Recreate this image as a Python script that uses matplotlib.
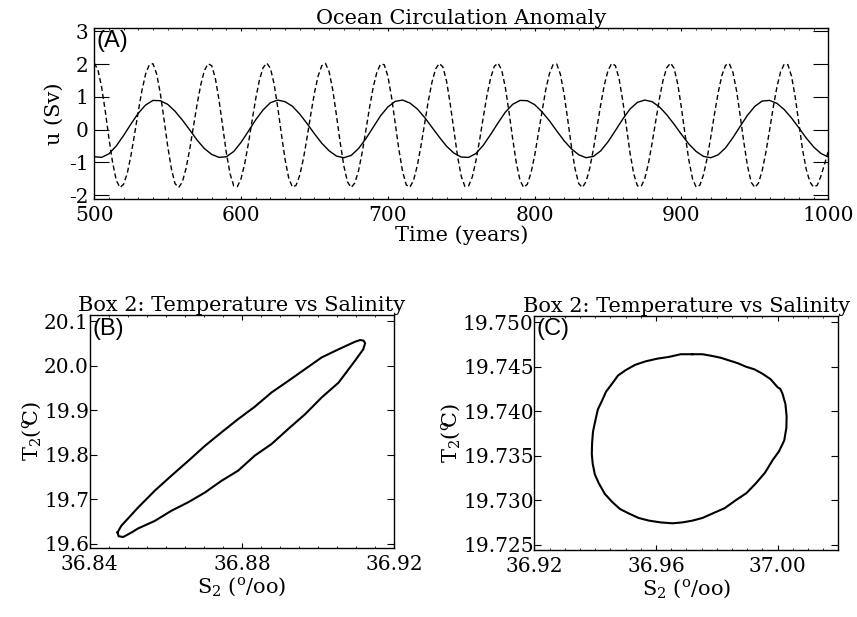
import numpy as np
import matplotlib
matplotlib.use('Agg')
import matplotlib.pyplot as plt
from matplotlib.ticker import MultipleLocator, FormatStrFormatter

plt.rcParams['font.family'] = ['DejaVu Serif']
plt.rcParams['mathtext.fontset'] = 'dejavuserif'
plt.rcParams['axes.unicode_minus'] = False

# ---------------- data ----------------
# Panel A: time grid (years)
years_solid = np.arange(500, 1000.1, 5.0)
years_dashed = np.arange(500, 1000.1, 2.5)

# solid curve (low-frequency oscillation), Sv, every 5 years
u_solid = [
    -0.83, -0.85, -0.74, -0.50, -0.18, 0.17, 0.50, 0.75, 0.89, 0.88,
    0.77, 0.56, 0.29, -0.01, -0.32, -0.58, -0.76, -0.85, -0.83, -0.67,
    -0.39, -0.05, 0.30, 0.60, 0.82, 0.90, 0.85, 0.71, 0.47, 0.18,
    -0.13, -0.42, -0.65, -0.81, -0.86, -0.79, -0.58, -0.28, 0.07, 0.42,
    0.69, 0.86, 0.90, 0.81, 0.63, 0.37, 0.07, -0.23, -0.51, -0.72,
    -0.84, -0.85, -0.73, -0.48, -0.15, 0.20, 0.53, 0.77, 0.89, 0.88,
    0.76, 0.54, 0.27, -0.04, -0.34, -0.59, -0.77, -0.86, -0.82, -0.65,
    -0.37, -0.03, 0.32, 0.63, 0.83, 0.90, 0.85, 0.69, 0.45, 0.16,
    -0.15, -0.44, -0.67, -0.82, -0.86, -0.77, -0.56, -0.25, 0.10, 0.44,
    0.71, 0.87, 0.89, 0.80, 0.61, 0.35, 0.05, -0.26, -0.53, -0.73,
    -0.84,
]

# dashed curve (high-frequency oscillation), Sv, every 2.5 years
u_dashed = [
    2.03, 1.82, 1.30, 0.56, -0.27, -1.01, -1.55, -1.77, -1.67, -1.33, -0.79, -0.13, 0.56, 1.20, 1.70, 1.98,
    2.01, 1.70, 1.10, 0.32, -0.50, -1.19, -1.65, -1.77, -1.60, -1.19, -0.61, 0.07, 0.76, 1.36, 1.80, 2.01,
    1.95, 1.56, 0.89, 0.08, -0.72, -1.35, -1.72, -1.74, -1.50, -1.04, -0.42, 0.27, 0.95, 1.51, 1.89, 2.03,
    1.87, 1.39, 0.67, -0.15, -0.92, -1.49, -1.76, -1.70, -1.39, -0.88, -0.23, 0.47, 1.12, 1.64, 1.95,
    2.02, 1.76, 1.20, 0.43, -0.39, -1.11, -1.60, -1.77, -1.63, -1.26, -0.70, -0.03, 0.67, 1.29, 1.75, 2.00,
    1.98, 1.63, 0.99, 0.20, -0.61, -1.28, -1.69, -1.76, -1.55, -1.11, -0.51, 0.18, 0.86, 1.44, 1.85, 2.02,
    1.91, 1.47, 0.77, -0.04, -0.83, -1.43, -1.74, -1.72, -1.45, -0.95, -0.32, 0.38, 1.04, 1.58, 1.93,
    2.03, 1.82, 1.29, 0.54, -0.28, -1.02, -1.55, -1.77, -1.67, -1.32, -0.79, -0.12, 0.57, 1.21, 1.70, 1.98,
    2.00, 1.69, 1.09, 0.31, -0.51, -1.20, -1.65, -1.77, -1.59, -1.18, -0.60, 0.08, 0.77, 1.37, 1.81, 2.02,
    1.95, 1.55, 0.88, 0.07, -0.73, -1.36, -1.72, -1.74, -1.50, -1.03, -0.41, 0.28, 0.95, 1.52, 1.89, 2.03,
    1.87, 1.38, 0.65, -0.17, -0.93, -1.50, -1.76, -1.70, -1.38, -0.87, -0.22, 0.48, 1.13, 1.65, 1.96,
    2.02, 1.75, 1.19, 0.42, -0.40, -1.12, -1.61, -1.77, -1.63, -1.25, -0.69, -0.02, 0.68, 1.30, 1.76, 2.00,
    1.98, 1.62, 0.98, 0.18, -0.62, -1.22, -1.60, -1.76, -1.70, -1.42, -1.05, -0.66,
]

# Panel B: box 2 salinity / temperature loop
salinity_b = [36.8473, 36.8483, 36.8527, 36.8571, 36.8615, 36.8659, 36.8703, 36.8746,
              36.8790, 36.8834, 36.8878, 36.8922, 36.8966, 36.9010, 36.9054, 36.9097,
              36.9111, 36.9120, 36.9124, 36.9119, 36.9097, 36.9054, 36.9010, 36.8966,
              36.8922, 36.8878, 36.8834, 36.8790, 36.8746, 36.8703, 36.8659, 36.8615,
              36.8571, 36.8527, 36.8510, 36.8488, 36.8476, 36.8473]
temperature_b = [19.6250, 19.640, 19.681, 19.719, 19.753, 19.786, 19.820, 19.850,
                 19.880, 19.908, 19.940, 19.966, 19.9925, 20.019, 20.037, 20.054,
                 20.058, 20.0565, 20.051, 20.037, 20.011, 19.962, 19.929, 19.891,
                 19.858, 19.824, 19.798, 19.764, 19.741, 19.715, 19.693, 19.674,
                 19.651, 19.634, 19.6250, 19.6148, 19.6165, 19.6250]

# Panel C: box 2 salinity / temperature loop
salinity_c = [36.9720, 36.96815, 36.9643, 36.9604, 36.9566, 36.9531, 36.9500, 36.9475,
              36.9456, 36.9436, 36.9423, 36.9409, 36.9401, 36.9393, 36.9390, 36.9389,
              36.9392, 36.9399, 36.9412, 36.9432, 36.9456, 36.9482, 36.9511, 36.9543,
              36.9577, 36.96155, 36.9654, 36.9687, 36.9720, 36.9753, 36.9786, 36.9826,
              36.9863, 36.9898, 36.9929, 36.9959, 36.9984, 37.0005, 37.0022, 37.0029,
              37.0030, 37.0026, 37.0016, 37.0009, 37.0000, 36.9977, 36.9951, 36.9924,
              36.9896, 36.98685, 36.9841, 36.98135, 36.9786, 36.9753, 36.9720]
temperature_c = [19.7464, 19.7464, 19.7461, 19.7459, 19.7456, 19.7452, 19.7446, 19.7440,
                 19.7431, 19.7422, 19.7412, 19.7402, 19.7390, 19.7377, 19.7364, 19.7352,
                 19.7341, 19.7329, 19.7319, 19.7307, 19.7298, 19.7290, 19.7285, 19.7280,
                 19.7277, 19.7275, 19.7274, 19.7275, 19.7277, 19.7280, 19.7285, 19.7291,
                 19.7300, 19.7308, 19.7319, 19.7331, 19.7345, 19.7355, 19.7367, 19.7381,
                 19.7394, 19.7408, 19.7420, 19.7425, 19.7427, 19.7436, 19.7442, 19.7447,
                 19.7450, 19.7454, 19.7457, 19.7460, 19.7462, 19.7464, 19.7464]

# ---------------- figure ----------------
fig = plt.figure(figsize=(8.57, 6.17), dpi=100)
TICK_FS = 14.5
LAB_FS = 15

# Panel A
axA = fig.add_axes([0.110, 0.6775, 0.8565, 0.2771])
axA.plot(years_solid, u_solid, color='black', lw=1.0, solid_joinstyle='round')
axA.plot(years_dashed, u_dashed, color='black', lw=1.0, dashes=(3.6, 2.2))
axA.set_xlim(500, 1000)
axA.set_ylim(-2.12, 3.10)
axA.xaxis.set_major_locator(MultipleLocator(100))
axA.xaxis.set_minor_locator(MultipleLocator(10))
axA.yaxis.set_major_locator(MultipleLocator(1))
axA.tick_params(which='both', direction='in', top=True, right=True)
axA.tick_params(axis='x', which='major', length=2.5, labelsize=TICK_FS, pad=5)
axA.tick_params(axis='x', which='minor', length=1.3)
axA.tick_params(axis='y', which='major', length=10.5, labelsize=TICK_FS, pad=4)
axA.set_title('Ocean Circulation Anomaly', fontsize=LAB_FS, pad=1)
axA.set_xlabel('Time (years)', fontsize=LAB_FS, labelpad=0)
axA.set_ylabel('u (Sv)', fontsize=LAB_FS, labelpad=4)
axA.text(0.003, 0.99, '(A)', transform=axA.transAxes, family='Liberation Sans',
         fontsize=17, va='top', ha='left')

xlab = r'S$_2$ ($^{\rm o}$/oo)'
ylab = r'T$_2$($^{\rm o}\!\!$C)'

# Panel B
axB = fig.add_axes([0.1047, 0.1118, 0.3551, 0.3771])
axB.plot(salinity_b, temperature_b, color='black', lw=1.5, solid_joinstyle='round')
axB.set_xlim(36.84, 36.92)
axB.set_ylim(19.59, 20.1135)
axB.xaxis.set_major_locator(MultipleLocator(0.04))
axB.xaxis.set_minor_locator(MultipleLocator(0.005))
axB.yaxis.set_major_locator(MultipleLocator(0.1))
axB.xaxis.set_major_formatter(FormatStrFormatter('%.2f'))
axB.yaxis.set_major_formatter(FormatStrFormatter('%.1f'))
axB.set_title('Box 2: Temperature vs Salinity', fontsize=LAB_FS, pad=2)
axB.set_xlabel(xlab, fontsize=LAB_FS, labelpad=1)
axB.set_ylabel(ylab, fontsize=LAB_FS, labelpad=1)
axB.text(0.008, 0.99, '(B)', transform=axB.transAxes, family='Liberation Sans',
         fontsize=17, va='top', ha='left')

# Panel C
axC = fig.add_axes([0.6235, 0.1086, 0.3547, 0.3793])
axC.plot(salinity_c, temperature_c, color='black', lw=1.5, solid_joinstyle='round')
axC.set_xlim(36.92, 37.02)
axC.set_ylim(19.7244, 19.7507)
axC.xaxis.set_major_locator(MultipleLocator(0.04))
axC.xaxis.set_minor_locator(MultipleLocator(0.005))
axC.yaxis.set_major_locator(MultipleLocator(0.005))
axC.xaxis.set_major_formatter(FormatStrFormatter('%.2f'))
axC.yaxis.set_major_formatter(FormatStrFormatter('%.3f'))
axC.set_title('Box 2: Temperature vs Salinity', fontsize=LAB_FS, pad=2)
axC.set_xlabel(xlab, fontsize=LAB_FS, labelpad=1)
axC.set_ylabel(ylab, fontsize=LAB_FS, labelpad=1)
axC.text(0.008, 0.99, '(C)', transform=axC.transAxes, family='Liberation Sans',
         fontsize=17, va='top', ha='left')

for ax in (axB, axC):
    ax.tick_params(which='both', direction='in', top=True, right=True)
    ax.tick_params(axis='x', which='major', length=3.4, labelsize=TICK_FS, pad=5)
    ax.tick_params(axis='x', which='minor', length=1.7)
    ax.tick_params(axis='y', which='major', length=4.8, labelsize=TICK_FS, pad=0.5)

for ax in (axA, axB, axC):
    for sp in ax.spines.values():
        sp.set_linewidth(1.0)

fig.savefig('out.png', dpi=100)
